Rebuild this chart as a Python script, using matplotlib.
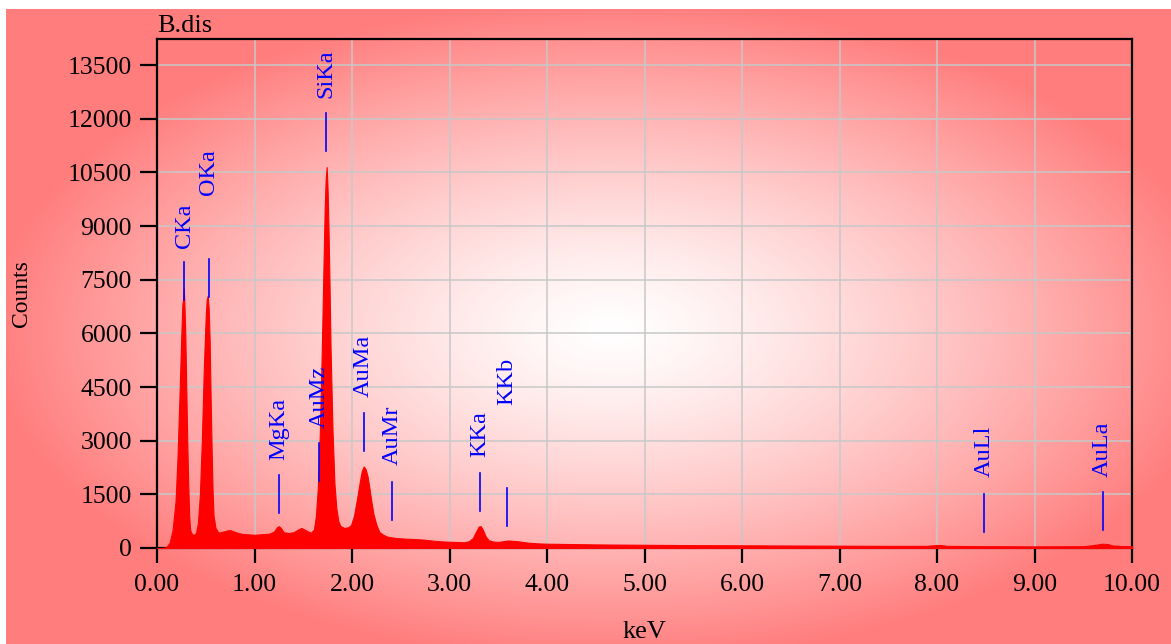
import numpy as np
import matplotlib.pyplot as plt

# spectrum (keV, counts)
energy = [0.00, 0.05, 0.08, 0.10, 0.13, 0.16, 0.19, 0.21, 0.23, 0.25, 0.26, 0.27, 0.275, 0.28, 0.29,
          0.30, 0.31, 0.32, 0.33, 0.34, 0.36, 0.38, 0.40, 0.42, 0.44, 0.46, 0.48, 0.50, 0.51, 0.52,
          0.53, 0.54, 0.55, 0.56, 0.57, 0.58, 0.60, 0.63, 0.68, 0.72, 0.75, 0.78, 0.82, 0.88, 0.95,
          1.00, 1.05, 1.10, 1.15, 1.20, 1.23, 1.25, 1.27, 1.30, 1.35, 1.40, 1.45, 1.48, 1.51, 1.55,
          1.58, 1.61, 1.63, 1.65, 1.67, 1.69, 1.71, 1.72, 1.73, 1.74, 1.75, 1.76, 1.77, 1.78, 1.80,
          1.82, 1.84, 1.86, 1.88, 1.92, 1.96, 1.99, 2.02, 2.05, 2.08, 2.10, 2.12, 2.14, 2.16, 2.18,
          2.20, 2.22, 2.25, 2.28, 2.32, 2.36, 2.40, 2.45, 2.55, 2.65, 2.75, 2.85, 2.95, 3.05, 3.15,
          3.20, 3.24, 3.27, 3.30, 3.32, 3.34, 3.37, 3.40, 3.45, 3.50, 3.55, 3.60, 3.65, 3.70, 3.80,
          3.90, 4.00, 4.50, 5.00, 5.50, 6.00, 6.50, 7.00, 7.50, 7.90, 8.00, 8.05, 8.10, 8.50, 9.00,
          9.50, 9.60, 9.70, 9.75, 9.80, 9.90, 10.00]
counts = [0, 0, 10, 40, 150, 500, 1300, 2500, 4200, 6000, 6800, 7000, 7250, 6900, 6000,
          4500, 3000, 1800, 900, 500, 380, 370, 420, 700, 1500, 3000, 5000, 6500, 6950, 7050,
          6700, 5800, 4200, 2800, 1600, 900, 560, 430, 460, 490, 500, 470, 430, 390, 380,
          370, 380, 390, 400, 460, 580, 610, 560, 440, 420, 440, 520, 560, 520, 460,
          430, 520, 900, 1700, 3200, 5500, 8200, 9500, 10300, 10650, 10000, 8800, 7300, 5600, 3300,
          1800, 1100, 750, 620, 560, 580, 640, 900, 1350, 1850, 2150, 2280, 2200, 2000, 1650,
          1280, 950, 650, 450, 370, 320, 300, 280, 260, 250, 230, 200, 180, 170, 160,
          190, 280, 450, 600, 610, 520, 330, 220, 180, 170, 190, 210, 200, 190, 150,
          130, 120, 100, 90, 80, 75, 70, 65, 60, 60, 85, 80, 60, 50, 45,
          50, 80, 120, 110, 70, 55, 50]

# peak markers
peak_names = ["CKa", "OKa", "MgKa", "AuMz", "SiKa", "AuMa", "AuMr", "KKa", "KKb", "AuLl", "AuLa"]
peak_kev = [0.277, 0.529, 1.25, 1.66, 1.73, 2.12, 2.41, 3.31, 3.59, 8.48, 9.70]
marker_top = [7994, 8078, 2040, 2935, 12158, 3773, 1845, 2096, 1677, 1509, 1565]
label_base = [8385, 9866, 2460, 3354, 12578, 4220, 2320, 2543, 3997, 1984, 1984]

W, H = 1171, 644
fig = plt.figure(figsize=(W / 100, H / 100), dpi=100, facecolor="white")

# background: radial white-to-salmon gradient
bg = fig.add_axes([6 / W, 0, 1 - 6 / W, 1 - 9 / H], zorder=-5)
gx, gy = np.meshgrid(np.arange(6, W), np.arange(9, H))
t = np.sqrt(((gx - 610) / 620.0) ** 2 + ((gy - 330) / 330.0) ** 2)
frac = np.clip(t, 0, 1) ** 1.3
salmon = np.array([255, 125, 125]) / 255.0
img = 1 - (1 - salmon)[None, None, :] * frac[:, :, None]
bg.imshow(img, aspect="auto", extent=[0, 1, 0, 1], origin="upper")
bg.axis("off")

ax = fig.add_axes([157 / W, 1 - 548 / H, (1132 - 157) / W, (548 - 39) / H])
ax.set_facecolor("none")

ax.fill_between(energy, counts, 0, color="#ff0000", linewidth=0.8, edgecolor="#ff0000", zorder=3)

for name, x, top, lb in zip(peak_names, peak_kev, marker_top, label_base):
    ax.plot([x, x], [top - 1070, top], color="#0000ff", linewidth=1.2, zorder=4)
    ax.text(x, lb, name, rotation=90, ha="center", va="bottom", color="#0000ff",
            fontsize=17.5, family="Liberation Serif", zorder=5)

ax.set_xlim(0, 10)
ax.set_ylim(0, 14230)
ax.set_xticks(np.arange(0, 10.01, 1))
ax.set_xticklabels(["%.2f" % v for v in np.arange(0, 10.01, 1)])
ax.set_yticks(np.arange(0, 13501, 1500))
ax.grid(True, color="#c8c8c8", linewidth=1.1, zorder=1)
ax.set_axisbelow(True)

for s in ax.spines.values():
    s.set_linewidth(1.6)
    s.set_color("black")

ax.tick_params(axis="y", length=12, width=1.6, pad=6, labelsize=18.5)
ax.tick_params(axis="x", length=11, width=1.6, pad=8, labelsize=18.5)
for lab in ax.get_xticklabels() + ax.get_yticklabels():
    lab.set_family("Liberation Serif")

ax.text(0, 1.004, "B.dis", transform=ax.transAxes, ha="left", va="bottom",
        fontsize=19, family="Liberation Serif")
ax.set_xlabel("keV", fontsize=19, family="Liberation Serif", labelpad=18)
fig.text(21 / W, 1 - 294 / H, "Counts", rotation=90, ha="center", va="center",
         fontsize=17, family="Liberation Serif")

fig.savefig("out.png", dpi=100, facecolor="white")
